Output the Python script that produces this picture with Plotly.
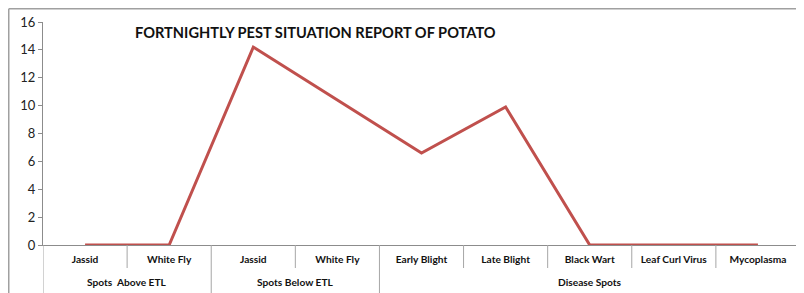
import plotly.graph_objects as go

pests = ["Jassid", "White Fly", "Jassid", "White Fly", "Early Blight", "Late Blight",
         "Black Wart", "Leaf Curl Virus", "Mycoplasma"]
groups = ["Spots  Above ETL", "Spots Below ETL", "Disease Spots"]
group_sizes = [2, 2, 5]
values = [0, 0, 14.2, 10.4, 6.6, 9.9, 0, 0, 0]
y_ticks = [0, 2, 4, 6, 8, 10, 12, 14, 16]
title_text = "FORTNIGHTLY PEST SITUATION REPORT OF POTATO"

OFF = 8  # default page body margin
W, H = 804 - OFF, 293 - OFF
ml, mt = 43 - OFF, 22 - OFF
pw, ph = 800 - 43, 245 - 22
mr, mb = W - ml - pw, H - mt - ph

xs = list(range(len(pests)))

fig = go.Figure()
fig.add_trace(go.Scatter(
    x=xs, y=values, mode="lines",
    line=dict(color="#C0504D", width=3), showlegend=False, hoverinfo="skip",
))

font = "Lato, 'Open Sans', sans-serif"
sep_color = "#a6a6a6"

def py(page_y):
    # page pixel y -> paper y
    return 1 - (page_y - 22) / ph

shapes = []
bounds = [-0.5]
for s in group_sizes:
    bounds.append(bounds[-1] + s)
group_bounds = set(bounds)
for i in range(len(pests) + 1):
    b = i - 0.5
    tall = b in group_bounds
    shapes.append(dict(type="line", xref="x", yref="paper", x0=b, x1=b,
                       y0=py(245), y1=py(300 if tall else 268),
                       line=dict(color=sep_color, width=1)))
shapes.append(dict(type="line", xref="paper", yref="paper",
                   x0=(0.75 - ml) / pw, x1=(W - ml) / pw, y0=1 + (mt - 0.75) / ph, y1=1 + (mt - 0.75) / ph,
                   line=dict(color="#a0a0a0", width=1.5)))
shapes.append(dict(type="line", xref="paper", yref="paper",
                   x0=(0.75 - ml) / pw, x1=(0.75 - ml) / pw, y0=1 + (mt - 0.75) / ph, y1=py(300),
                   line=dict(color="#a0a0a0", width=1.5)))

annotations = [
    dict(text="<b>" + title_text + "</b>", xref="paper", yref="paper",
         x=(133 - 43) / pw, y=py(32), xanchor="left", yanchor="middle",
         showarrow=False, font=dict(family=font, size=14.6, color="#111111")),
]
start = 0
for g, s in zip(groups, group_sizes):
    center = start + (s - 1) / 2
    annotations.append(dict(text="<b>" + g + "</b>", xref="x", yref="paper",
                            x=center, y=py(282), xanchor="center", yanchor="middle",
                            showarrow=False, font=dict(family=font, size=10.2, color="#111111")))
    start += s

fig.update_layout(
    width=W, height=H,
    margin=dict(l=ml, r=mr, t=mt, b=mb, autoexpand=False),
    paper_bgcolor="white", plot_bgcolor="white",
    font=dict(family=font, color="#222222"),
    xaxis=dict(
        range=[-0.5, len(pests) - 0.5], automargin=False,
        tickmode="array", tickvals=xs, ticktext=["<b>" + p + "</b>" for p in pests],
        showline=True, linecolor="#8c8c8c", linewidth=1,
        ticks="", ticklabelstandoff=5,
        tickfont=dict(family=font, size=10.2, color="#111111"),
        showgrid=False, zeroline=False, fixedrange=True,
    ),
    yaxis=dict(
        range=[0, 16], tickmode="array", tickvals=y_ticks, automargin=False,
        showline=True, linecolor="#8c8c8c", linewidth=1,
        ticks="outside", ticklen=4, tickcolor="#8c8c8c",
        tickfont=dict(family=font, size=13, color="#222222"),
        showgrid=False, zeroline=False, fixedrange=True,
    ),
    shapes=shapes,
    annotations=annotations,
)

fig.write_html("out.html")
